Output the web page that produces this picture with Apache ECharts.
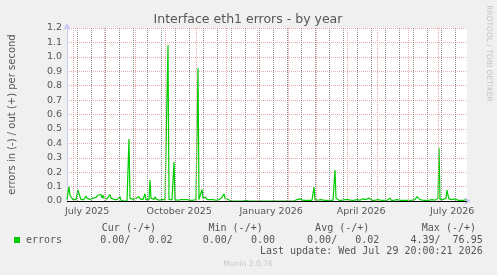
<!DOCTYPE html>
<html>
<head>
<meta charset="utf-8">
<script src="https://cdn.jsdelivr.net/npm/echarts@6/dist/echarts.min.js"></script>
<style>
html, body { margin: 0; padding: 0; background: #f0f0f0; }
#chart { width: 497px; height: 275px; }
</style>
</head>
<body>
<div id="chart"></div>
<script>
// one value per day, first day starts 2025-06-24 20:00 UTC (400 days)
const startTime = Date.UTC(2025, 5, 24, 20, 0, 0)
const endTime = Date.UTC(2026, 6, 29, 20, 0, 0)
const errorsOut = [
  0.01, 0.02, 0.10, 0.04, 0.04, 0.03, 0.01, 0.01, 0.01, 0.01,
  0.02, 0.077, 0.05, 0.04, 0.01, 0.02, 0.01, 0.01, 0.02, 0.035,
  0.02, 0.01, 0.01, 0.01, 0.005, 0.02, 0.02, 0.03, 0.02, 0.025,
  0.02, 0.04, 0.045, 0.03, 0.045, 0.02, 0.04, 0.02, 0.01, 0.02,
  0.015, 0.01, 0.02, 0.045, 0.02, 0.01, 0.015, 0.01, 0.02, 0.01,
  0.01, 0.015, 0.01, 0.03, 0.005, 0, 0, 0, 0, 0,
  0, 0, 0.43, 0.02, 0.01, 0.015, 0.01, 0.005, 0.01, 0.02,
  0.01, 0.015, 0.03, 0.015, 0.01, 0.005, 0.01, 0.02, 0.05, 0.01,
  0.01, 0.005, 0.01, 0.145, 0.02, 0.01, 0.015, 0.01, 0.03, 0.015,
  0.01, 0.005, 0.005, 0.01, 0.005, 0.01, 0.01, 0.01, 0.01, 0.005,
  0.01, 1.08, 0.01, 0.01, 0.005, 0.01, 0.01, 0.27, 0.01, 0.005,
  0.01, 0.005, 0.01, 0.005, 0.01, 0.01, 0.02, 0.01, 0.005, 0.01,
  0.01, 0.02, 0.01, 0.005, 0.005, 0.005, 0.005, 0.01, 0.005, 0.01,
  0.01, 0.92, 0.01, 0.005, 0.02, 0.08, 0.02, 0.01, 0.015, 0.025,
  0.01, 0.01, 0.005, 0.01, 0.01, 0.01, 0.01, 0.02, 0.01, 0.005,
  0.01, 0.01, 0.01, 0.005, 0.01, 0.025, 0.015, 0.05, 0.02, 0.02,
  0.01, 0.01, 0.005, 0, 0, 0, 0, 0, 0, 0,
  0, 0, 0, 0, 0, 0, 0, 0.01, 0.01, 0.005,
  0.01, 0, 0, 0, 0, 0, 0, 0, 0, 0,
  0, 0, 0, 0, 0, 0.005, 0, 0, 0, 0.005,
  0, 0, 0, 0, 0, 0, 0, 0, 0, 0,
  0, 0, 0, 0, 0, 0, 0, 0, 0, 0,
  0, 0, 0, 0, 0, 0, 0, 0, 0, 0.005,
  0.01, 0.02, 0.015, 0.015, 0.01, 0.005, 0.005, 0.005, 0.005, 0.005,
  0.005, 0.005, 0.005, 0.01, 0.005, 0.005, 0.01, 0.097, 0.01, 0.01,
  0.01, 0.005, 0.005, 0.01, 0.01, 0.005, 0.005, 0.005, 0.01, 0.005,
  0.005, 0.005, 0.005, 0.005, 0.005, 0.005, 0.005, 0.01, 0.215, 0.02,
  0.02, 0.01, 0.005, 0.01, 0.005, 0.005, 0.01, 0.015, 0.01, 0.015,
  0.005, 0.01, 0.005, 0.005, 0.005, 0.005, 0.01, 0.005, 0.005, 0.005,
  0.01, 0.005, 0.005, 0.005, 0.005, 0.005, 0.015, 0.02, 0.005, 0.01,
  0.005, 0.005, 0.02, 0.02, 0.01, 0.005, 0.005, 0.005, 0.005, 0.005,
  0.005, 0.01, 0.005, 0.005, 0.005, 0.005, 0.005, 0.005, 0.005, 0.005,
  0.005, 0.005, 0.01, 0.02, 0.005, 0, 0.01, 0.005, 0.01, 0.01,
  0.01, 0.005, 0.005, 0.005, 0.005, 0.005, 0.005, 0.005, 0.005, 0.005,
  0.005, 0.005, 0.005, 0.005, 0.005, 0.005, 0.005, 0.005, 0.01, 0.02,
  0.03, 0.042, 0.03, 0.01, 0.005, 0.005, 0.005, 0.005, 0.005, 0.005,
  0.005, 0.005, 0.005, 0.005, 0.005, 0.01, 0.005, 0.005, 0.005, 0.01,
  0.01, 0.02, 0.37, 0.01, 0.005, 0.005, 0.01, 0.005, 0.01, 0.02,
  0.076, 0.04, 0.015, 0.01, 0.02, 0.01, 0.005, 0.01, 0.015, 0.005,
  0.01, 0.005, 0.015, 0.01, 0.005, 0.01, 0.015, 0.005, 0.015, 0.01
]

// x axis labels (placed mid month, like rrdtool)
const labelDates = ['2025-07-15', '2025-10-15', '2026-01-15', '2026-04-15', '2026-07-15']
const labelTexts = ['July 2025', 'October 2025', 'January 2026', 'April 2026', 'July 2026']
// major grid: month starts, minor grid: every two weeks
const monthDates = ['2025-07-01', '2025-08-01', '2025-09-01', '2025-10-01', '2025-11-01', '2025-12-01',
  '2026-01-01', '2026-02-01', '2026-03-01', '2026-04-01', '2026-05-01', '2026-06-01', '2026-07-01']
const fortnightDates = ['2025-07-05', '2025-07-19', '2025-08-02', '2025-08-16', '2025-08-30', '2025-09-13',
  '2025-09-27', '2025-10-11', '2025-10-25', '2025-11-08', '2025-11-22', '2025-12-06', '2025-12-20',
  '2026-01-03', '2026-01-17', '2026-01-31', '2026-02-14', '2026-02-28', '2026-03-14', '2026-03-28',
  '2026-04-11', '2026-04-25', '2026-05-09', '2026-05-23', '2026-06-06', '2026-06-20', '2026-07-04',
  '2026-07-18']

// legend table
const legendHeads = ['Cur (-/+)', 'Min (-/+)', 'Avg (-/+)', 'Max (-/+)']
const legendValues = ['0.00/   0.02', '0.00/   0.00', '0.00/   0.02', '4.39/  76.95']
const lastUpdate = 'Last update: Wed Jul 29 20:00:21 2026'

const DAY = 86400000
const ts = d => Date.parse(d + 'T00:00:00Z')
const labelTimes = labelDates.map(ts)

const mono = '10px "DejaVu Sans Mono"'
const txt = '#555555'
const redGrid = '#eaa8a8'
const grayGrid = '#8c8c8c'

const headRight = [156, 262.7, 369.3, 476]
const valRight = [172.5, 275, 379.3, 482.7]

const graphics = [
  { type: 'text', x: 248, y: 19.5, style: { text: 'Interface eth1 errors - by year', font: '12.5px "DejaVu Sans"', fill: txt, align: 'center', verticalAlign: 'middle' } },
  { type: 'text', x: 12, y: 114.5, rotation: Math.PI / 2, style: { text: 'errors in (-) / out (+) per second', font: '10px "DejaVu Sans"', fill: txt, align: 'center', verticalAlign: 'middle' } },
  { type: 'text', x: 488.5, y: 53.5, rotation: -Math.PI / 2, style: { text: 'RRDTOOL / TOBI OETIKER', font: '7.5px "DejaVu Sans"', fill: '#c4c4c4', align: 'center', verticalAlign: 'middle' } },
  { type: 'rect', shape: { x: 14, y: 237, width: 6, height: 6 }, style: { fill: '#00cc00' } },
  { type: 'text', x: 26, y: 240, style: { text: 'errors', font: mono, fill: txt, align: 'left', verticalAlign: 'middle' } },
  { type: 'text', x: 482.7, y: 251.5, style: { text: lastUpdate, font: mono, fill: txt, align: 'right', verticalAlign: 'middle' } },
  { type: 'text', x: 248, y: 264.5, style: { text: 'Munin 2.0.76', font: '7.6px "DejaVu Sans"', fill: '#c8c8c8', align: 'center', verticalAlign: 'middle' } }
]
legendHeads.forEach((h, i) => {
  graphics.push({ type: 'text', x: headRight[i], y: 228, style: { text: h, font: mono, fill: txt, align: 'right', verticalAlign: 'middle' } })
  graphics.push({ type: 'text', x: valRight[i], y: 240, style: { text: legendValues[i], font: mono, fill: txt, align: 'right', verticalAlign: 'middle' } })
})

const vLine = (d, color) => ({ xAxis: ts(d), lineStyle: { color, width: 1, type: [1, 1] } })

const chart = echarts.init(document.getElementById('chart'))
chart.setOption({
  backgroundColor: '#f0f0f0',
  animation: false,
  textStyle: { fontFamily: 'DejaVu Sans' },
  grid: { left: 67, right: 30, top: 28, bottom: 74, show: true, backgroundColor: '#ffffff', borderWidth: 0 },
  xAxis: {
    type: 'value',
    min: startTime,
    max: endTime,
    axisLine: { show: true, onZero: false, lineStyle: { color: '#c8c8f0' }, symbol: ['none', 'arrow'], symbolSize: [6, 7], symbolOffset: [0, 4] },
    axisTick: { show: false },
    splitLine: { show: false },
    axisLabel: {
      customValues: labelTimes,
      formatter: v => labelTexts[labelTimes.indexOf(v)] || '',
      color: txt,
      fontSize: 9.5,
      fontFamily: 'DejaVu Sans',
      margin: 6,
      hideOverlap: false
    }
  },
  yAxis: {
    type: 'value',
    min: 0,
    max: 1.2,
    interval: 0.1,
    axisLine: { show: true, lineStyle: { color: '#c8c8f0' }, symbol: ['none', 'arrow'], symbolSize: [6, 7], symbolOffset: [0, 5] },
    axisTick: { show: false },
    axisLabel: { formatter: v => v.toFixed(1), color: txt, fontSize: 9.5, fontFamily: 'DejaVu Sans', margin: 5 },
    splitLine: { show: true, lineStyle: { color: redGrid, width: 1, type: [1, 1] } }
  },
  graphic: graphics,
  series: [
    {
      name: 'errors',
      type: 'line',
      showSymbol: false,
      z: 3,
      lineStyle: { color: '#00cc00', width: 1.2 },
      itemStyle: { color: '#00cc00' },
      data: errorsOut.map((v, i) => [startTime + i * DAY, v]),
      markLine: {
        silent: true,
        symbol: 'none',
        label: { show: false },
        emphasis: { disabled: true },
        data: fortnightDates.map(d => vLine(d, grayGrid))
          .concat(monthDates.map(d => vLine(d, redGrid)))
          .concat([{ yAxis: 0, lineStyle: { color: '#000000', width: 1, type: 'solid' } }])
      }
    }
  ]
})
</script>
</body>
</html>
